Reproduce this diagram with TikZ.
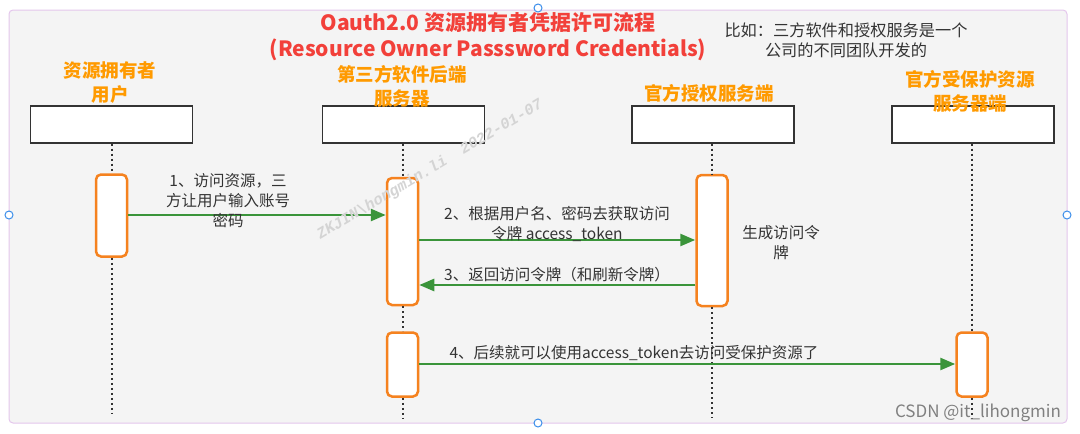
\documentclass[tikz,border=0pt]{standalone}
\usepackage{fontspec}
\setmainfont{Noto Sans CJK SC}
\newfontfamily\wmfont{Liberation Mono}
\usetikzlibrary{arrows.meta}
\definecolor{panelfill}{HTML}{F4F4F4}
\definecolor{paneldraw}{HTML}{E4C6EC}
\definecolor{titlered}{HTML}{F2403A}
\definecolor{headorange}{HTML}{FF9A00}
\definecolor{actorange}{HTML}{F5821F}
\definecolor{msggreen}{HTML}{3A943A}
\definecolor{txtgray}{HTML}{333333}
\definecolor{handleblue}{HTML}{3B8EEA}
\tikzset{
  headbox/.style={draw=txtgray, line width=1.2pt, fill=white, minimum width=162pt, minimum height=37pt, inner sep=0pt},
  actbar/.style={draw=actorange, line width=2.5pt, rounded corners=5pt, fill=white, minimum width=31pt, inner sep=0pt},
  lifeline/.style={draw=txtgray, line width=2pt, dash pattern=on 2pt off 3pt},
  msg/.style={draw=msggreen, line width=2.5pt, -{Triangle[length=15pt,width=12pt]}},
  headlabel/.style={text=headorange, font=\fontsize{18.5}{24}\selectfont\bfseries, align=center, inner sep=0pt},
  msglabel/.style={text=txtgray, font=\fontsize{15.5}{20}\selectfont, align=center, inner sep=0pt},
  handle/.style={circle, draw=handleblue, fill=white, line width=1pt, minimum size=8pt, inner sep=0pt},
}
\begin{document}
\begin{tikzpicture}[x=1pt, y=-1pt]
\useasboundingbox (0,0) rectangle (1080,434);
% panel
\draw[fill=panelfill, draw=paneldraw, line width=1pt, rounded corners=4pt] (9,10) rectangle (1067,423);
% title
\node[text=titlered, font=\fontsize{21}{26}\selectfont\bfseries, align=center, inner sep=0pt] (title) at (488,37) {Oauth2.0 资源拥有者凭据许可流程\\(Resource Owner Passsword Credentials)};
\node[msglabel, font=\fontsize{16.2}{20}\selectfont] (note) at (846,40) {比如：三方软件和授权服务是一个\\公司的不同团队开发的};
% head boxes
\node[headbox] (b1) at (111.5,124.5) {};
\node[headbox] (b2) at (403.5,124.5) {};
\node[headbox] (b3) at (713,124.5) {};
\node[headbox] (b4) at (973,124.5) {};
% headers
\node[headlabel] (h1) at (110,83) {资源拥有者\\用户};
\node[headlabel] (h2) at (402,86) {第三方软件后端\\服务器};
\node[headlabel] (h3) at (709,93) {官方授权服务端};
\node[headlabel] (h4) at (970,91) {官方受保护资源\\服务器端};
% activation bars
\node[actbar, minimum height=82pt] (a1) at (111.5,215.5) {};
\node[actbar, minimum height=127pt] (a2) at (402.5,241.5) {};
\node[actbar, minimum height=131pt] (a3) at (712,240.5) {};
\node[actbar, minimum height=64pt] (a2b) at (402.5,364.5) {};
\node[actbar, minimum height=64pt] (a4) at (972,364.5) {};
% lifeline ends
\coordinate (e1) at (111.5,413);
\coordinate (e2) at (402.5,418);
\coordinate (e3) at (712,418);
\coordinate (e4) at (972,418);
% lifelines
\draw[lifeline] (b1.south) -- (a1.north);
\draw[lifeline] (a1.south) -- (e1);
\draw[lifeline] (b2.south -| a2.north) -- (a2.north);
\draw[lifeline] (a2.south) -- (a2b.north);
\draw[lifeline] (a2b.south) -- (e2);
\draw[lifeline] (b3.south -| a3.north) -- (a3.north);
\draw[lifeline] (a3.south) -- (e3);
\draw[lifeline] (b4.south -| a4.north) -- (a4.north);
\draw[lifeline] (a4.south) -- (e4);
% messages
\draw[msg] (a1.east |- 0,215) -- (a2.west |- 0,215);
\draw[msg] (a2.east |- 0,240) -- (a3.west |- 0,240);
\draw[msg] (a3.west |- 0,285) -- (a2.east |- 0,285);
\draw[msg] (a2b.east |- 0,364) -- (a4.west |- 0,364);
% message labels
\node[msglabel] (l1) at (228,201) {1、访问资源，三\\方让用户输入账号\\密码};
\node[msglabel] (l2) at (557,224) {2、根据用户名、密码去获取访问\\令牌 access\_token};
\node[msglabel] (l3) at (557,275) {3、返回访问令牌（和刷新令牌）};
\node[msglabel] (l4) at (634,353) {4、后续就可以使用access\_token去访问受保护资源了};
\node[msglabel] (l5) at (781,243) {生成访问令\\牌};
% watermark
\node[rotate=30.7, text=black!17, font=\wmfont\bfseries\itshape\fontsize{15.5}{16}\selectfont, inner sep=0pt] (wm) at (430,170) {ZKJIN\textbackslash hongmin.li\hspace{18pt}2022-01-07};
% credit
\node[text=black!50, font=\fontsize{17}{19}\selectfont, inner sep=0pt] (csdn) at (978,413) {CSDN @it\_lihongmin};
% selection handles
\node[handle] (hl) at (9,215) {};
\node[handle] (hr) at (1067,215) {};
\node[handle] (ht) at (538,8) {};
\node[handle] (hb) at (538,423) {};
\end{tikzpicture}
\end{document}
